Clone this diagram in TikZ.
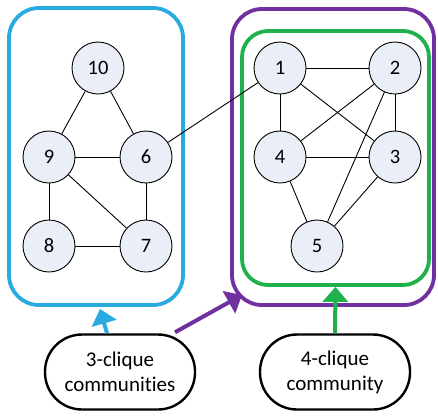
\documentclass[tikz,border=0pt]{standalone}
\usepackage{fontspec}
\setmainfont{Carlito}[Ligatures=NoCommon]
\usetikzlibrary{arrows.meta}
\definecolor{cblue}{RGB}{41,171,226}
\definecolor{cpurple}{RGB}{112,48,160}
\definecolor{cgreen}{RGB}{30,177,76}
\definecolor{nfill}{RGB}{233,238,247}
\tikzset{
  vert/.style={circle,draw=black,line width=0.9pt,fill=nfill,minimum size=52pt,inner sep=0pt,font=\fontsize{20.5}{24}\selectfont},
  edge/.style={line width=0.9pt,black},
  box/.style={rounded corners=30pt,line width=3.8pt,inner sep=0pt},
  label/.style={draw=black,line width=2.4pt,rounded corners=37pt,minimum width=150pt,minimum height=75pt,align=center,font=\fontsize{21}{25}\selectfont,inner sep=0pt},
  arr/.style={line width=4pt,-{Triangle[length=15pt,width=25pt]}}
}
\begin{document}
\begin{tikzpicture}[x=1pt,y=-1pt]
\useasboundingbox (0,0) rectangle (438,416);
% boxes
\node[box,draw=cblue,minimum width=174pt,minimum height=297pt] (bluebox) at (96,156.5) {};
\node[box,draw=cpurple,minimum width=202pt,minimum height=296pt] (purplebox) at (333,157) {};
\node[box,draw=cgreen,rounded corners=26pt,minimum width=187pt,minimum height=254pt] (greenbox) at (335.5,158) {};
% vertices
\node[vert] (n10) at (98,68) {10};
\node[vert] (n9) at (49,157) {9};
\node[vert] (n6) at (146,157) {6};
\node[vert] (n8) at (49,246) {8};
\node[vert] (n7) at (146,246) {7};
\node[vert] (n1) at (280,68) {1};
\node[vert] (n2) at (395,68) {2};
\node[vert] (n4) at (280,157) {4};
\node[vert] (n3) at (395,157) {3};
\node[vert] (n5) at (317,246) {5};
% edges
\draw[edge] (n10) -- (n9);
\draw[edge] (n10) -- (n6);
\draw[edge] (n9) -- (n6);
\draw[edge] (n9) -- (n8);
\draw[edge] (n9) -- (n7);
\draw[edge] (n6) -- (n7);
\draw[edge] (n8) -- (n7);
\draw[edge] (n6) -- (n1);
\draw[edge] (n1) -- (n2);
\draw[edge] (n1) -- (n4);
\draw[edge] (n1) -- (n3);
\draw[edge] (n2) -- (n4);
\draw[edge] (n2) -- (n3);
\draw[edge] (n2) -- (n5);
\draw[edge] (n4) -- (n3);
\draw[edge] (n4) -- (n5);
\draw[edge] (n3) -- (n5);
% labels
\node[label] (c3) at (120,372) {3-clique\\communities};
\node[label] (c4) at (335,372) {4-clique\\community};
% arrows
\coordinate (pcorner) at (242,295);
\draw[arr,cblue] ([xshift=-13pt]c3.north) -- ([xshift=4pt,yshift=-2pt]bluebox.south);
\draw[arr,cpurple] ([xshift=55pt,yshift=1pt]c3.north) -- (pcorner);
\draw[arr,cgreen] (c4.north) -- (greenbox.south);
\end{tikzpicture}
\end{document}
